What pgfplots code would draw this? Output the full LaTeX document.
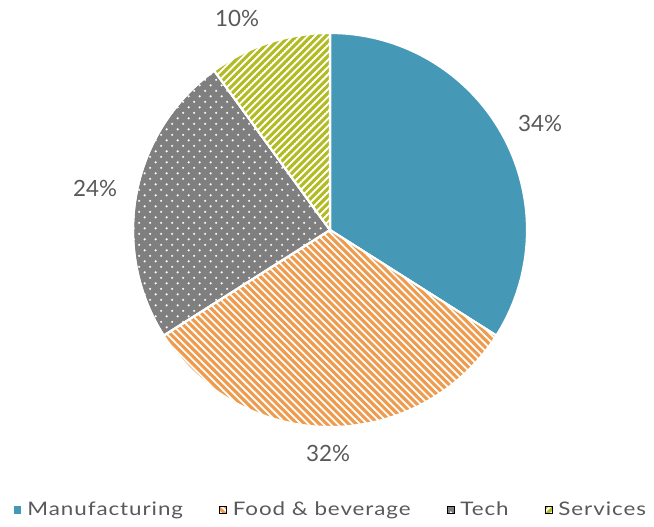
\documentclass[border=0pt]{standalone}
\usepackage{pgfplots}
\pgfplotsset{compat=1.18}
\usepackage{fontspec}
\setmainfont{Lato}
\newfontfamily\legfont[FakeStretch=1.2, LetterSpace=5]{Lato}
\usetikzlibrary{patterns.meta}
\definecolor{mteal}{HTML}{4599B7}
\definecolor{morange}{HTML}{EE9B4D}
\definecolor{mgray}{HTML}{7F7F7F}
\definecolor{mgreen}{HTML}{B2BC22}
\definecolor{txt}{HTML}{595959}
\tikzdeclarepattern{
  name=stripesNW,
  bottom left={(-0.1pt,-0.1pt)},
  top right={(4.0pt,4.0pt)},
  tile size={(3.9pt,3.9pt)},
  tile transformation={rotate=-45},
  code={\fill (-0.1pt,0pt) rectangle (4.0pt,2.3pt);}
}
\tikzdeclarepattern{
  name=stripesNE,
  bottom left={(-0.1pt,-0.1pt)},
  top right={(4.0pt,4.0pt)},
  tile size={(3.9pt,3.9pt)},
  tile transformation={rotate=45},
  code={\fill (-0.1pt,0pt) rectangle (4.0pt,2.3pt);}
}
\tikzdeclarepattern{
  name=whitedots,
  bottom left={(0pt,0pt)},
  top right={(8.2pt,8.2pt)},
  tile size={(8.2pt,8.2pt)},
  code={\fill (2pt,2pt) circle (0.9pt); \fill (6.1pt,6.1pt) circle (0.9pt);}
}
% values (percent)
\def\vA{34}\def\vB{32}\def\vC{24}\def\vD{10}
\begin{document}
\begin{tikzpicture}
\path[use as bounding box] (0,0) rectangle (490.5pt,394.5pt);
\begin{axis}[
  at={(0,0)}, anchor=south west, scale only axis,
  width=490.5pt, height=394.5pt,
  xmin=0, xmax=654, ymin=0, ymax=526,
  hide axis, clip=false,
  legend image code/.code={\fill[#1, draw=none] (0pt,-2.7pt) rectangle (5.4pt,2.7pt);},
  legend columns=4,
  legend style={draw=none, fill=none, at={(axis cs:14,16)}, anchor=west,
    font=\legfont\fontsize{14}{17}\selectfont, text=txt,
    /tikz/every odd column/.append style={column sep=2.5pt},
    /tikz/every even column/.append style={column sep=25pt},
    inner sep=0pt},
]
% Manufacturing
\addplot[forget plot, fill=mteal, draw=white, line width=1.6pt, domain={90-3.6*\vA}:90, samples=90, variable=\t]
  ({330+197*cos(\t)},{296+197*sin(\t)}) -- (axis cs:330,296) -- cycle;
% Food & beverage
\addplot[forget plot, fill=white, postaction={pattern=stripesNW, pattern color=morange}, draw=white, line width=1.6pt, domain={90-3.6*(\vA+\vB)}:{90-3.6*\vA}, samples=90, variable=\t]
  ({330+197*cos(\t)},{296+197*sin(\t)}) -- (axis cs:330,296) -- cycle;
% Tech
\addplot[forget plot, fill=mgray, postaction={pattern=whitedots, pattern color=white}, draw=white, line width=1.6pt, domain={90-3.6*(\vA+\vB+\vC)}:{90-3.6*(\vA+\vB)}, samples=90, variable=\t]
  ({330+197*cos(\t)},{296+197*sin(\t)}) -- (axis cs:330,296) -- cycle;
% Services
\addplot[forget plot, fill=white, postaction={pattern=stripesNE, pattern color=mgreen}, draw=white, line width=1.6pt, domain={90-3.6*(\vA+\vB+\vC+\vD)}:{90-3.6*(\vA+\vB+\vC)}, samples=30, variable=\t]
  ({330+197*cos(\t)},{296+197*sin(\t)}) -- (axis cs:330,296) -- cycle;
\addlegendimage{fill=mteal}
\addlegendentry{Manufacturing}
\addlegendimage{fill=white, postaction={pattern=stripesNW, pattern color=morange}}
\addlegendentry{Food \& beverage}
\addlegendimage{fill=mgray, postaction={pattern=whitedots, pattern color=white}}
\addlegendentry{Tech}
\addlegendimage{fill=white, postaction={pattern=stripesNE, pattern color=mgreen}}
\addlegendentry{Services}
\node[text=txt, font=\fontsize{16.8}{20}\selectfont] at (axis cs:540,403) {34\%};
\node[text=txt, font=\fontsize{16.8}{20}\selectfont] at (axis cs:328,73) {32\%};
\node[text=txt, font=\fontsize{16.8}{20}\selectfont] at (axis cs:95,338) {24\%};
\node[text=txt, font=\fontsize{16.8}{20}\selectfont] at (axis cs:237,508) {10\%};
\end{axis}
\end{tikzpicture}
\end{document}
